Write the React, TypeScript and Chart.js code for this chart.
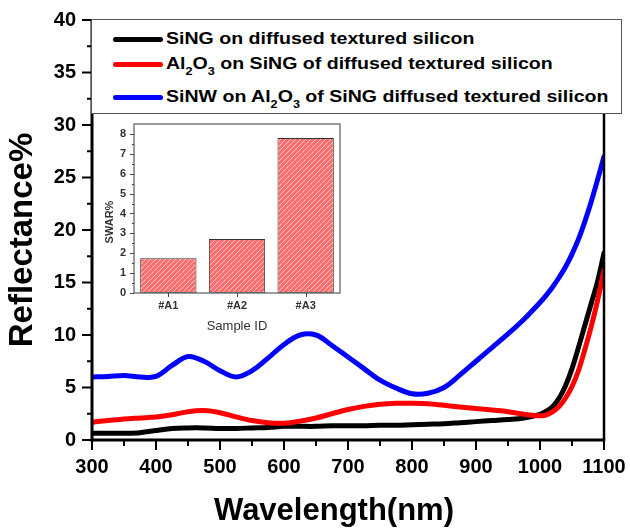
import React, { useEffect, useRef } from 'react';
import { Chart, registerables } from 'chart.js';

Chart.register(...registerables);

const FONT = "'Liberation Sans', Arial, sans-serif";

// ---- main chart data ----
const wavelengths = [300, 325, 350, 375, 400, 425, 450, 475, 500, 525, 550, 575, 600, 625, 650, 675, 700, 725, 750, 775, 800, 825, 850, 875, 900, 925, 950, 975, 1000, 1010, 1020, 1030, 1040, 1050, 1060, 1070, 1080, 1090, 1100];
const singValues = [0.65, 0.65, 0.65, 0.7, 0.9, 1.1, 1.15, 1.15, 1.1, 1.1, 1.15, 1.2, 1.3, 1.3, 1.3, 1.35, 1.35, 1.35, 1.4, 1.4, 1.45, 1.5, 1.55, 1.65, 1.75, 1.85, 1.95, 2.1, 2.45, 2.75, 3.2, 4.0, 5.2, 6.8, 8.8, 10.9, 13.0, 15.1, 17.8];
const al2o3Values = [1.7, 1.85, 2.0, 2.1, 2.2, 2.4, 2.7, 2.8, 2.6, 2.2, 1.85, 1.65, 1.6, 1.8, 2.1, 2.5, 2.9, 3.2, 3.4, 3.5, 3.5, 3.45, 3.3, 3.15, 3.0, 2.85, 2.7, 2.45, 2.3, 2.4, 2.7, 3.2, 4.0, 5.1, 6.6, 8.6, 10.8, 13.3, 16.2];
const sinwValues = [6.0, 6.05, 6.15, 6.0, 6.05, 7.1, 7.95, 7.5, 6.6, 6.0, 6.6, 7.8, 9.1, 10.0, 10.0, 9.0, 7.9, 6.8, 5.7, 4.95, 4.4, 4.45, 5.0, 6.2, 7.5, 8.8, 10.1, 11.5, 13.1, 13.8, 14.6, 15.5, 16.5, 17.7, 19.1, 20.8, 22.7, 24.8, 27.0];

const seriesLabels = [
  'SiNG on diffused textured silicon',
  'Al_2O_3 on SiNG of diffused textured silicon',
  'SiNW on Al_2O_3 of SiNG diffused textured silicon',
];
const seriesColors = ['#000000', '#ff0000', '#0000ff'];

const xTickValues = [300, 400, 500, 600, 700, 800, 900, 1000, 1100];
const xMinorTickValues = [350, 450, 550, 650, 750, 850, 950, 1050];
const yTickValues = [0, 5, 10, 15, 20, 25, 30, 35, 40];
const yMinorTickValues = [2.5, 7.5, 12.5, 17.5, 22.5, 27.5, 32.5, 37.5];
const xTitle = 'Wavelength(nm)';
const yTitle = 'Reflectance%';

// ---- inset data ----
const insetCategories = ['#A1', '#A2', '#A3'];
const insetValues = [1.75, 2.72, 7.8];
const insetYTicks = [0, 1, 2, 3, 4, 5, 6, 7, 8];
const insetYMinorTicks = [0.5, 1.5, 2.5, 3.5, 4.5, 5.5, 6.5, 7.5];
const insetXTitle = 'Sample ID';
const insetYTitle = 'SWAR%';

function strokeLine(ctx: CanvasRenderingContext2D, x1: number, y1: number, x2: number, y2: number) {
  ctx.beginPath();
  ctx.moveTo(x1, y1);
  ctx.lineTo(x2, y2);
  ctx.stroke();
}

const noPad = (s: any) => {
  s.paddingLeft = 0;
  s.paddingRight = 0;
  s.paddingTop = 0;
  s.paddingBottom = 0;
};

const mainDecor = {
  id: 'mainDecor',
  afterDraw(chart: any) {
    const { ctx, chartArea: a, scales } = chart;
    const x = scales.x;
    const y = scales.y;
    ctx.save();
    ctx.strokeStyle = '#000';
    ctx.lineCap = 'butt';
    ctx.lineWidth = 2;
    strokeLine(ctx, a.left, a.top, a.right, a.top);
    ctx.lineWidth = 2.5;
    strokeLine(ctx, a.right, a.top, a.right, a.bottom);
    ctx.lineWidth = 3;
    strokeLine(ctx, a.left, a.top - 1, a.left, a.bottom + 1.5);
    strokeLine(ctx, a.left - 1.5, a.bottom, a.right + 1.25, a.bottom);
    ctx.lineWidth = 2;
    yTickValues.forEach((v) => {
      const p = y.getPixelForValue(v);
      strokeLine(ctx, a.left - 10, p, a.left, p);
    });
    yMinorTickValues.forEach((v) => {
      const p = y.getPixelForValue(v);
      strokeLine(ctx, a.left - 5, p, a.left, p);
    });
    xTickValues.forEach((v) => {
      const p = x.getPixelForValue(v);
      strokeLine(ctx, p, a.bottom, p, a.bottom + 10);
    });
    xMinorTickValues.forEach((v) => {
      const p = x.getPixelForValue(v);
      strokeLine(ctx, p, a.bottom, p, a.bottom + 6);
    });
    ctx.fillStyle = '#000';
    ctx.textAlign = 'center';
    ctx.textBaseline = 'middle';
    ctx.font = `bold 31px ${FONT}`;
    ctx.fillText(xTitle, a.left + 242, a.bottom + 71);
    ctx.save();
    ctx.translate(22.5, a.top + 220);
    ctx.rotate(-Math.PI / 2);
    ctx.font = `bold 33px ${FONT}`;
    ctx.fillText(yTitle, 0, 0);
    ctx.restore();
    ctx.restore();
  },
};

const insetDecor = {
  id: 'insetDecor',
  afterDraw(chart: any) {
    const { ctx, chartArea: a, scales } = chart;
    const x = scales.x;
    const y = scales.y;
    ctx.save();
    ctx.strokeStyle = '#7a7a7a';
    ctx.lineWidth = 1.5;
    ctx.strokeRect(a.left, a.top, a.right - a.left, a.bottom - a.top);
    ctx.strokeStyle = '#444';
    ctx.lineWidth = 1;
    insetYTicks.forEach((v) => {
      const p = Math.round(y.getPixelForValue(v)) + 0.5;
      strokeLine(ctx, a.left - 4, p, a.left, p);
    });
    insetYMinorTicks.forEach((v) => {
      const p = Math.round(y.getPixelForValue(v)) + 0.5;
      strokeLine(ctx, a.left - 2, p, a.left, p);
    });
    insetCategories.forEach((_, i) => {
      const p = Math.round(x.getPixelForValue(i)) + 0.5;
      strokeLine(ctx, p, a.bottom, p, a.bottom + 4);
    });
    ctx.fillStyle = '#333';
    ctx.textAlign = 'center';
    ctx.textBaseline = 'middle';
    ctx.font = `13px ${FONT}`;
    ctx.fillText(insetXTitle, (a.left + a.right) / 2, a.bottom + 33);
    ctx.save();
    ctx.translate(a.left - 24, a.top + 98);
    ctx.rotate(-Math.PI / 2);
    ctx.font = `bold 11px ${FONT}`;
    ctx.fillText(insetYTitle, 0, 0);
    ctx.restore();
    ctx.restore();
  },
};

function makeHatch(ctx: CanvasRenderingContext2D): CanvasPattern | string {
  const c = document.createElement('canvas');
  c.width = 5;
  c.height = 5;
  const g = c.getContext('2d');
  if (!g) return '#ff8080';
  g.fillStyle = '#ff6e6e';
  g.fillRect(0, 0, 5, 5);
  g.strokeStyle = 'rgba(255,255,255,0.6)';
  g.lineWidth = 1;
  strokeLine(g, -1, 6, 6, -1);
  strokeLine(g, -1, 1, 1, -1);
  strokeLine(g, 4, 6, 6, 4);
  return ctx.createPattern(c, 'repeat') || '#ff8080';
}

function LegendLabel({ text }: { text: string }) {
  const parts = text.split(/_(\d)/);
  return (
    <span>
      {parts.map((p, i) =>
        i % 2 === 1 ? (
          <span key={i} style={{ fontSize: 11, position: 'relative', top: 6 }}>{p}</span>
        ) : (
          <span key={i}>{p}</span>
        )
      )}
    </span>
  );
}

const legendRowCenters = [19, 44, 77];

export default function App() {
  const mainRef = useRef<HTMLCanvasElement>(null);
  const insetRef = useRef<HTMLCanvasElement>(null);

  useEffect(() => {
    const mk = (vals: number[]) => wavelengths.map((w, i) => ({ x: w, y: vals[i] }));
    const seriesData = [singValues, al2o3Values, sinwValues];
    const datasets = [2, 1, 0].map((i) => ({
      label: seriesLabels[i],
      data: mk(seriesData[i]),
      borderColor: seriesColors[i],
      backgroundColor: seriesColors[i],
      borderWidth: 5,
      pointRadius: 0,
      tension: 0.35,
      borderCapStyle: 'round' as const,
      borderJoinStyle: 'round' as const,
      fill: false,
    }));
    const tickFont = { family: FONT, size: 20, weight: 'bold' as const };
    const main = new Chart(mainRef.current as HTMLCanvasElement, {
      type: 'line',
      data: { datasets },
      options: {
        responsive: false,
        animation: false,
        devicePixelRatio: 1,
        layout: { padding: { top: 20, right: 26, left: 0, bottom: 0 } },
        plugins: { legend: { display: false }, tooltip: { enabled: false } },
        scales: {
          x: {
            type: 'linear',
            min: 300,
            max: 1100,
            afterFit: (s: any) => { s.height = 90; noPad(s); },
            afterBuildTicks: (s: any) => { s.ticks = xTickValues.map((v) => ({ value: v })); },
            grid: { display: false, drawTicks: false },
            border: { display: false },
            ticks: { font: tickFont, color: '#000', padding: 15, maxRotation: 0, autoSkip: false, callback: (v: any) => String(v) },
          },
          y: {
            type: 'linear',
            min: 0,
            max: 40,
            afterFit: (s: any) => { s.width = 92; noPad(s); },
            afterBuildTicks: (s: any) => { s.ticks = yTickValues.map((v) => ({ value: v })); },
            grid: { display: false, drawTicks: false },
            border: { display: false },
            ticks: { font: tickFont, color: '#000', padding: 16, autoSkip: false, callback: (v: any) => String(v) },
          },
        },
      } as any,
      plugins: [mainDecor],
    });

    const ictx = (insetRef.current as HTMLCanvasElement).getContext('2d') as CanvasRenderingContext2D;
    const insetFont = { family: FONT, size: 11, weight: 'bold' as const };
    const inset = new Chart(insetRef.current as HTMLCanvasElement, {
      type: 'bar',
      data: {
        labels: insetCategories,
        datasets: [{
          data: insetValues,
          backgroundColor: makeHatch(ictx) as any,
          borderColor: '#333',
          borderWidth: 1,
          borderSkipped: false,
          barPercentage: 0.82,
          categoryPercentage: 1,
        }],
      },
      options: {
        responsive: false,
        animation: false,
        devicePixelRatio: 1,
        layout: { padding: { top: 9, right: 5, left: 0, bottom: 0 } },
        plugins: { legend: { display: false }, tooltip: { enabled: false } },
        scales: {
          x: {
            afterFit: (s: any) => { s.height = 47; noPad(s); },
            grid: { display: false, drawTicks: false },
            border: { display: false },
            ticks: { font: insetFont, color: '#333', padding: 6 },
          },
          y: {
            min: 0,
            max: 8.5,
            afterFit: (s: any) => { s.width = 39; noPad(s); },
            afterBuildTicks: (s: any) => { s.ticks = insetYTicks.map((v) => ({ value: v })); },
            grid: { display: false, drawTicks: false },
            border: { display: false },
            ticks: { font: insetFont, color: '#333', padding: 8, autoSkip: false },
          },
        },
      } as any,
      plugins: [insetDecor],
    });

    return () => {
      main.destroy();
      inset.destroy();
    };
  }, []);

  return (
    <div style={{ position: 'fixed', left: 0, top: 0, width: 630, height: 530, background: '#fff', overflow: 'hidden' }}>
      <canvas ref={mainRef} width={630} height={530} style={{ position: 'absolute', left: 0, top: 0, width: 630, height: 530 }} />
      <canvas ref={insetRef} width={250} height={225} style={{ position: 'absolute', left: 95, top: 115, width: 250, height: 225 }} />
      <div
        style={{
          position: 'absolute',
          left: 91,
          top: 19,
          width: 529,
          height: 93,
          border: '1.5px solid #555',
          background: '#fff',
          fontFamily: FONT,
          fontWeight: 'bold',
          fontSize: 17,
          color: '#000',
        }}
      >
        {seriesLabels.map((lab, i) => (
          <div key={i} style={{ position: 'absolute', left: 0, top: legendRowCenters[i] - 10, height: 20, width: 700, whiteSpace: 'nowrap' }}>
            <div style={{ position: 'absolute', left: 21, top: 7.5, width: 50, height: 5, borderRadius: 2.5, background: seriesColors[i] }} />
            <div style={{ position: 'absolute', left: 74, top: 0, height: 20, lineHeight: '20px', transform: 'scaleX(1.15)', transformOrigin: 'left center' }}>
              <LegendLabel text={lab} />
            </div>
          </div>
        ))}
      </div>
    </div>
  );
}
